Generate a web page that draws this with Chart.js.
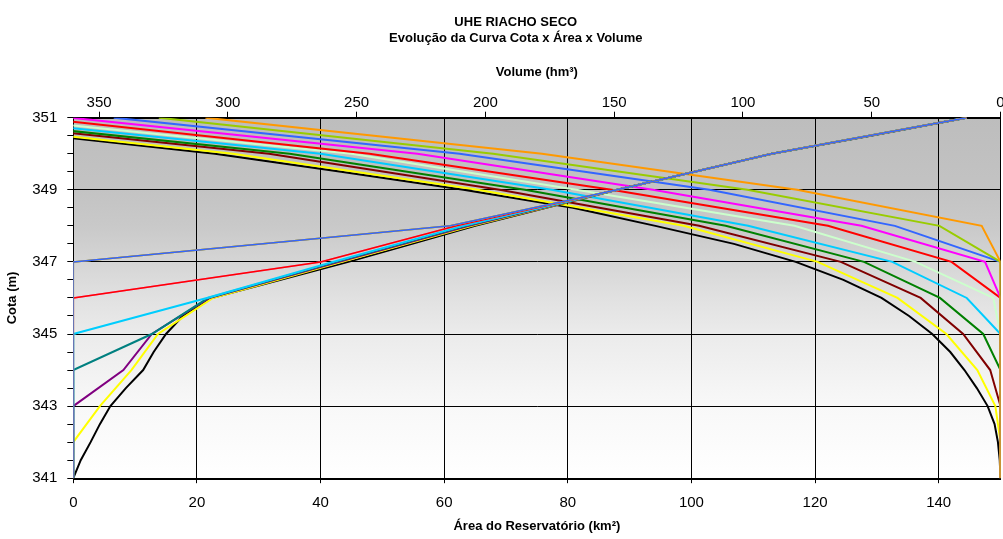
<!DOCTYPE html>
<html>
<head>
<meta charset="utf-8">
<script src="https://cdn.jsdelivr.net/npm/chart.js@4.4.0/dist/chart.umd.min.js"></script>
<style>
html,body{margin:0;padding:0;background:#fff;}
#wrap{width:1003px;height:539px;}
</style>
</head>
<body>
<div id="wrap"><canvas id="c" width="1003" height="539"></canvas></div>
<script>
// ---- Data ----
const tituloLinhas = ['UHE RIACHO SECO', 'Evolução da Curva Cota x Área x Volume'];
const tituloVolume = 'Volume (hm³)';
const tituloArea = 'Área do Reservatório (km²)';
const tituloCota = 'Cota (m)';

// elevations (m)
const cotas = [341,342,343,344,345,346,347,348,349,350,351];
const cotasFinas = [341,341.5,342,342.5,343,343.5,344,344.5,345,345.5,346,346.5,347,347.5,348,348.5,349,349.5,350,350.5,351];

// original curve (black), half-metre steps
const areaPreto = [0,1.2,2.8,4.3,6.0,8.5,11.3,13.0,15.0,17.7,22.4,33.4,44.5,54.8,65,76.5,88,100.5,113,129,144.5];
const volPreto  = [0,0.3,1.0,2.3,5.0,9.2,14.0,19.5,26.5,35.5,46.2,61,79.5,103.5,134,166,208.5,256,305,369,416];

// later curves, one-metre steps (cotas)
const areaAmarelo    = [0,0,4.3,9.4,13.7,22.6,43.5,64.5,88,113,144.5];
const volAmarelo     = [0,0,2,9,21,40,71,123,203,298,430];
const areaRoxo       = [0,0,0,8.1,12.7,22.0,43,64,88,113,144.5];
const volVinho       = [0,0,0,4,14.5,31,62,117,194.5,284,418];
const areaAzulPetroleo = [0,0,0,0,12.7,21.8,42.5,63.5,88,113,144.5];
const volVerde       = [0,0,0,0,6.7,23.5,53,106.7,184.7,276,410];
const areaCiano      = [0,0,0,0,0,21.6,42,63,88,113,144.5];
const volCiano       = [0,0,0,0,0,13.1,42,98,174.3,264,400];
const areaVerdeClaro = [0,0,0,0,0,21.6,42,63,88,113,144.5];
const volVerdeClaro  = [0,0,0,0,0,2.8,33,80,164.7,252,390];
const areaVermelho   = [0,0,0,0,0,0,40,62,88,113,144.5];
const volVermelho    = [0,0,0,0,0,0,19,67,151,245,375];
const areaMagenta    = [0,0,0,0,0,0,40,62,88,113,144.5];
const volMagenta     = [0,0,0,0,0,0,6,54,135,226.4,361];
const areaAzul       = [0,0,0,0,0,0,0,61,88,113,144.5];
const volAzul        = [0,0,0,0,0,0,0,41,113,210,344.3];
const areaVerdeLimao = [0,0,0,0,0,0,0,61,88,113,144.5];
const volVerdeLimao  = [0,0,0,0,0,0,0,23.7,98.3,197,326.8];
const areaLaranja    = [0,0,0,0,0,0,0,61,88,113,144.5];
const volLaranja     = [0,0,0,0,0,0,0,7.3,79,178,308.7];

// axis ticks
const yMin = 341, yMax = 351, yPasso = 0.5;
const areaMin = 0, areaMax = 150, areaPasso = 20;
const volMin = 0, volMax = 360, volPasso = 50;

// ---- build datasets ----
function pts(xs, ys){ return ys.map((y,i)=>({x:xs[i], y:y})); }

// [elevations, area, volume, area colour, volume colour]
const series = [
  [cotasFinas, areaPreto, volPreto, '#000000', '#000000'],
  [cotas, areaAmarelo, volAmarelo, '#ffff00', '#ffff00'],
  [cotas, areaRoxo, volVinho, '#800080', '#800000'],
  [cotas, areaAzulPetroleo, volVerde, '#008080', '#008000'],
  [cotas, areaCiano, volCiano, '#00ccff', '#00ccff'],
  [cotas, areaVerdeClaro, volVerdeClaro, '#ccffcc', '#ccffcc'],
  [cotas, areaVermelho, volVermelho, '#ff0000', '#ff0000'],
  [cotas, areaMagenta, volMagenta, '#ff66cc', '#ff00ff'],
  [cotas, areaAzul, volAzul, '#3366ff', '#3366ff'],
  [cotas, areaVerdeLimao, volVerdeLimao, '#99cc00', '#99cc00'],
  [cotas, areaLaranja, volLaranja, '#ff9900', '#ff9900']
];

// Chart.js paints dataset 0 on top, so later series go first
const ordemArea = [8, 10, 9, 6, 7, 4, 5, 3, 2, 1, 0];
const ordemVol  = [10, 9, 8, 7, 6, 5, 4, 3, 2, 1, 0];

const datasets = [];
ordemArea.forEach((k) => {
  const s = series[k];
  datasets.push({
    label: 'Área ' + (k+1),
    data: pts(s[1], s[0]),
    xAxisID: 'x', yAxisID: 'y',
    borderColor: s[3], backgroundColor: s[3],
    borderWidth: (k >= 5 ? 1.5 : 2), pointRadius: 0, showLine: true, tension: 0, fill: false
  });
});
ordemVol.forEach((k) => {
  const s = series[k];
  datasets.push({
    label: 'Volume ' + (k+1),
    data: pts(s[2], s[0]),
    xAxisID: 'x2', yAxisID: 'y',
    borderColor: s[4], backgroundColor: s[4],
    borderWidth: 2, pointRadius: 0, showLine: true, tension: 0, fill: false
  });
});

const FONT = "'Liberation Sans', Arial, sans-serif";

const fundo = {
  id: 'fundo',
  beforeDraw(chart){
    const ctx = chart.ctx, a = chart.chartArea;
    ctx.save();
    ctx.fillStyle = '#ffffff';
    ctx.fillRect(0,0,chart.width,chart.height);
    const g = ctx.createLinearGradient(0, a.top, 0, a.bottom);
    g.addColorStop(0.0, '#bdbdbd');
    g.addColorStop(0.2, '#c3c3c3');
    g.addColorStop(0.3, '#c9c9c9');
    g.addColorStop(0.4, '#d5d5d5');
    g.addColorStop(0.5, '#e1e1e1');
    g.addColorStop(0.6, '#ebebeb');
    g.addColorStop(0.8, '#f8f8f8');
    g.addColorStop(1.0, '#ffffff');
    ctx.fillStyle = g;
    ctx.fillRect(a.left, a.top, a.right - a.left, a.bottom - a.top);
    ctx.restore();
  },
  beforeDatasetsDraw(chart){
    const ctx = chart.ctx, a = chart.chartArea;
    ctx.save();
    ctx.strokeStyle = '#000';
    ctx.lineWidth = 1;
    ctx.strokeRect(Math.round(a.left)+0.5, Math.round(a.top)+0.5, Math.round(a.right - a.left), Math.round(a.bottom - a.top));
    ctx.restore();
  }
};

function isMaior(v){ return Math.abs(v - Math.round(v)) < 1e-6 && ((Math.round(v) - yMin) % 2 === 0); }

new Chart(document.getElementById('c'), {
  type: 'scatter',
  data: { datasets },
  plugins: [fundo],
  options: {
    responsive: false,
    animation: false,
    events: [],
    devicePixelRatio: 1,
    layout: { padding: { left: 31, right: 2.5, top: 0, bottom: 0 } },
    plugins: {
      legend: { display: false },
      tooltip: { enabled: false },
      title: {
        display: true,
        text: tituloLinhas,
        color: '#000',
        font: { family: FONT, size: 13, weight: 'bold', lineHeight: 1.3 },
        padding: { top: 13.5, bottom: 2.7 }
      }
    },
    scales: {
      x: {
        type: 'linear', position: 'bottom',
        min: areaMin, max: areaMax,
        ticks: { stepSize: areaPasso, includeBounds: false, color: '#000', font: { family: FONT, size: 15 }, padding: 10.5, maxRotation: 0, autoSkip: false },
        grid: { color: '#000', tickColor: '#000', tickLength: 5, lineWidth: 1 },
        border: { display: true, color: '#000' },
        title: { display: true, text: tituloArea, color: '#000', font: { family: FONT, size: 13, weight: 'bold' }, padding: { top: 0, bottom: 5 } },
        afterFit(s){ s.height = 60.8; s.paddingLeft = 0; s.paddingRight = 0; }
      },
      x2: {
        type: 'linear', position: 'top', reverse: true,
        min: volMin, max: volMax,
        ticks: { stepSize: volPasso, includeBounds: false, color: '#000', font: { family: FONT, size: 15 }, padding: 0, maxRotation: 0, autoSkip: false },
        grid: { drawOnChartArea: false, color: '#000', tickColor: '#000', tickLength: 6 },
        border: { display: true, color: '#000' },
        title: { display: true, text: tituloVolume, color: '#000', font: { family: FONT, size: 13, weight: 'bold' }, padding: { top: 14.7, bottom: 0 } },
        afterFit(s){ s.height = 67.7; s.paddingLeft = 0; s.paddingRight = 0; }
      },
      y: {
        type: 'linear', position: 'left',
        min: yMin, max: yMax,
        ticks: {
          stepSize: yPasso, autoSkip: false, color: '#000', font: { family: FONT, size: 15 }, padding: 10,
          callback: (v) => isMaior(v) ? String(Math.round(v)) : ''
        },
        grid: {
          color: (c) => (c.tick && isMaior(c.tick.value)) ? '#000' : 'rgba(0,0,0,0)',
          tickColor: '#000', tickLength: 6
        },
        border: { display: true, color: '#000' },
        title: { display: true, text: tituloCota, color: '#000', font: { family: FONT, size: 13, weight: 'bold' }, padding: { top: -26.8, bottom: 0 } },
        afterFit(s){ s.width = 42.3; s.paddingTop = 0; s.paddingBottom = 0; }
      }
    }
  }
});
</script>
</body>
</html>
